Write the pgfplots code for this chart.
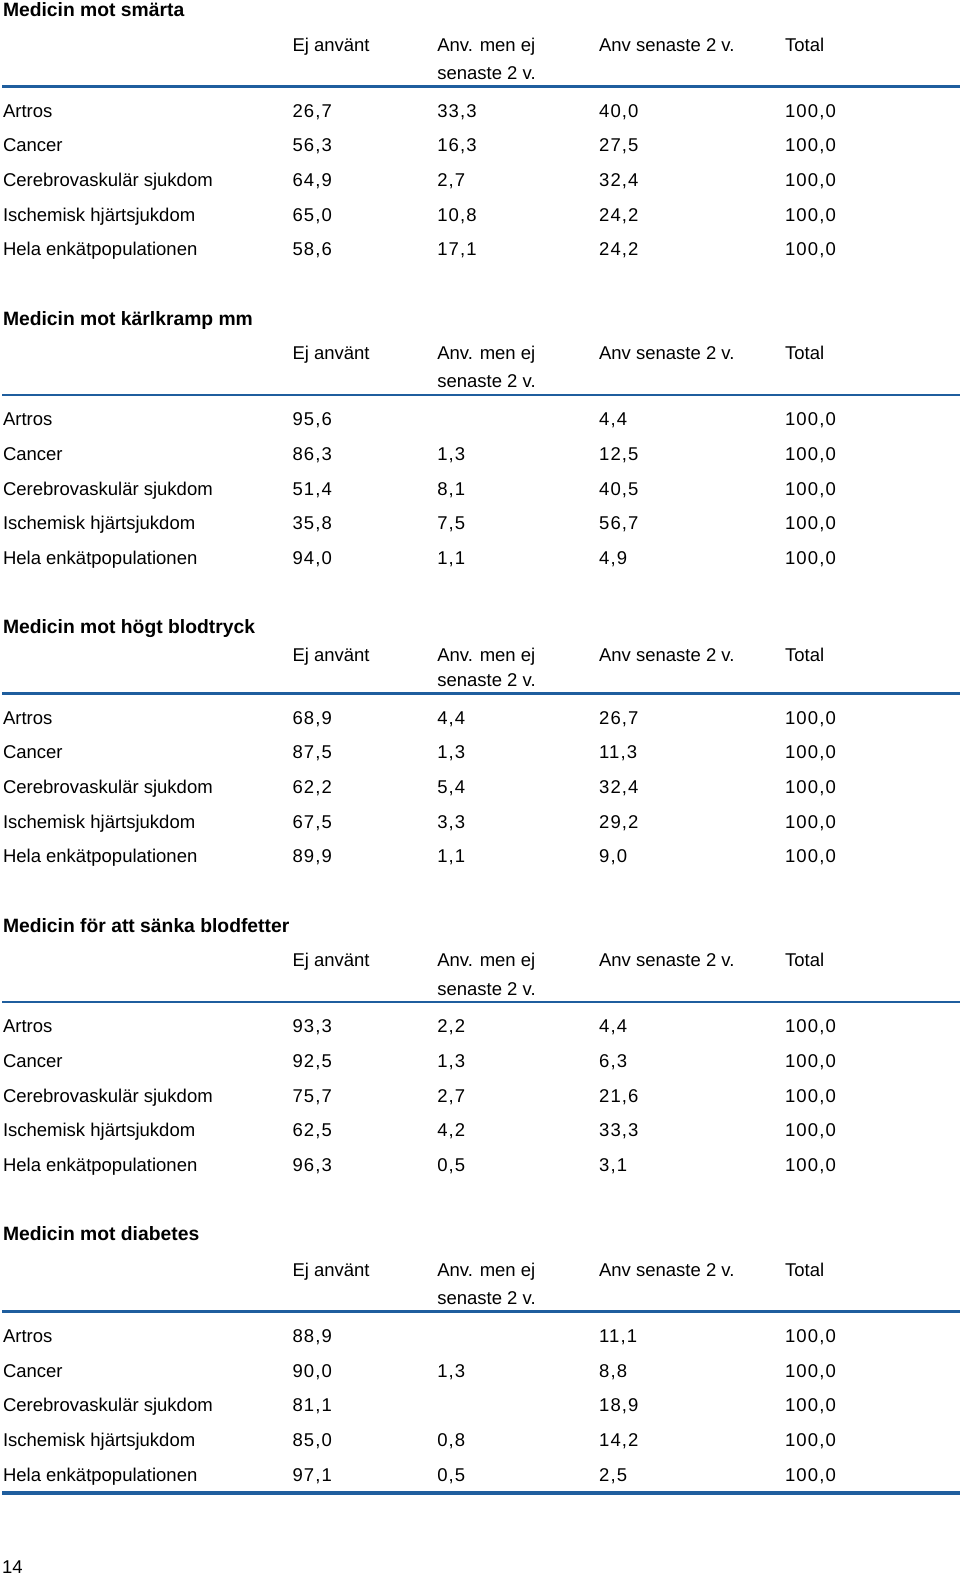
\documentclass[border=0pt]{standalone}
\usepackage{fontspec}
\setmainfont{Liberation Sans}
\usepackage{pgfplots}
\usepackage{pgfplotstable}
\pgfplotsset{compat=1.18}
\definecolor{tblue}{RGB}{31,94,158}
\newfontfamily\numfont[LetterSpace=6]{Liberation Sans}
\newcommand{\bodyfs}{\fontsize{9.25}{11}\selectfont}
\newcommand{\titlefs}{\fontsize{9.65}{11}\selectfont\bfseries}
\tikzset{
  txt/.style={anchor=base west, inner sep=0pt, outer sep=0pt, font=\bodyfs, text=black},
  ttl/.style={anchor=base west, inner sep=0pt, outer sep=0pt, font=\titlefs, text=black},
}
\pgfplotsset{
  vals/.style={draw=none, no markers, nodes near coords, point meta=explicit symbolic,
    nodes near coords style={anchor=base west, inner sep=0pt, outer sep=0pt, font=\numfont\bodyfs, text=black}},
}

% columns: y (baseline), Ej använt, Anv. men ej senaste 2 v., Anv senaste 2 v., Total
\pgfplotstableread{
y ej anv sen tot
116.5 26,7 33,3 40,0 100,0
151.0 56,3 16,3 27,5 100,0
185.5 64,9 2,7 32,4 100,0
220.0 65,0 10,8 24,2 100,0
254.5 58,6 17,1 24,2 100,0
}\tabA
\pgfplotstableread{
y ej anv sen tot
423.5 95,6 {} 4,4 100,0
458.0 86,3 1,3 12,5 100,0
492.5 51,4 8,1 40,5 100,0
527.0 35,8 7,5 56,7 100,0
561.5 94,0 1,1 4,9 100,0
}\tabB
\pgfplotstableread{
y ej anv sen tot
720.5 68,9 4,4 26,7 100,0
755.0 87,5 1,3 11,3 100,0
789.5 62,2 5,4 32,4 100,0
824.0 67,5 3,3 29,2 100,0
858.5 89,9 1,1 9,0 100,0
}\tabC
\pgfplotstableread{
y ej anv sen tot
1027.5 93,3 2,2 4,4 100,0
1062.0 92,5 1,3 6,3 100,0
1096.5 75,7 2,7 21,6 100,0
1131.0 62,5 4,2 33,3 100,0
1165.5 96,3 0,5 3,1 100,0
}\tabD
\pgfplotstableread{
y ej anv sen tot
1335.5 88,9 {} 11,1 100,0
1370.0 90,0 1,3 8,8 100,0
1404.5 81,1 {} 18,9 100,0
1439.0 85,0 0,8 14,2 100,0
1473.5 97,1 0,5 2,5 100,0
}\tabE

% section builder
% #1 title, #2 title baseline, #3 header1 baseline, #4 header2 baseline, #5 line y, #6 table, #7 first row baseline
\newcommand\tsection[7]{%
  \node[ttl] at (axis cs:1,#2) {#1};
  \node[txt] at (axis cs:289,#3) {Ej använt};
  \node[txt] at (axis cs:433,#3) {Anv. men ej};
  \node[txt] at (axis cs:433,#4) {senaste 2 v.};
  \node[txt] at (axis cs:594,#3) {Anv senaste 2 v.};
  \node[txt] at (axis cs:779,#3) {Total};
  \addplot[tblue, line width=1.25pt] coordinates {(0,#5) (953,#5)};
  \node[txt] at (axis cs:1,#7) {Artros};
  \node[txt] at (axis cs:1,#7+34.5) {Cancer};
  \node[txt] at (axis cs:1,#7+69) {Cerebrovaskulär sjukdom};
  \node[txt] at (axis cs:1,#7+103.5) {Ischemisk hjärtsjukdom};
  \node[txt] at (axis cs:1,#7+138) {Hela enkätpopulationen};
  \addplot[vals] table[x expr=289, y=y, meta=ej] {#6};
  \addplot[vals] table[x expr=433, y=y, meta=anv] {#6};
  \addplot[vals] table[x expr=594, y=y, meta=sen] {#6};
  \addplot[vals] table[x expr=779, y=y, meta=tot] {#6};
}

\begin{document}
\begin{tikzpicture}
\begin{axis}[
  scale only axis, width=480pt, height=788pt,
  xmin=0, xmax=955, ymin=0, ymax=1568, y dir=reverse,
  axis lines=none, xtick=\empty, ytick=\empty, clip=false,
]
\addplot[draw=none, no markers] coordinates {(0,0) (955,1568)};

\tsection{Medicin mot smärta}{16.5}{51}{79}{86}{\tabA}{116.5}
\tsection{Medicin mot kärlkramp mm}{323.5}{358}{386}{393}{\tabB}{423.5}
\tsection{Medicin mot högt blodtryck}{630.5}{658}{683}{690}{\tabC}{720.5}
\tsection{Medicin för att sänka blodfetter}{927.5}{962}{990}{997}{\tabD}{1027.5}
\tsection{Medicin mot diabetes}{1234.5}{1270}{1298}{1305}{\tabE}{1335.5}

\addplot[tblue, line width=2pt] coordinates {(0,1485) (953,1485)};
\node[txt] at (axis cs:0,1565.5) {14};
\end{axis}
\end{tikzpicture}
\end{document}
